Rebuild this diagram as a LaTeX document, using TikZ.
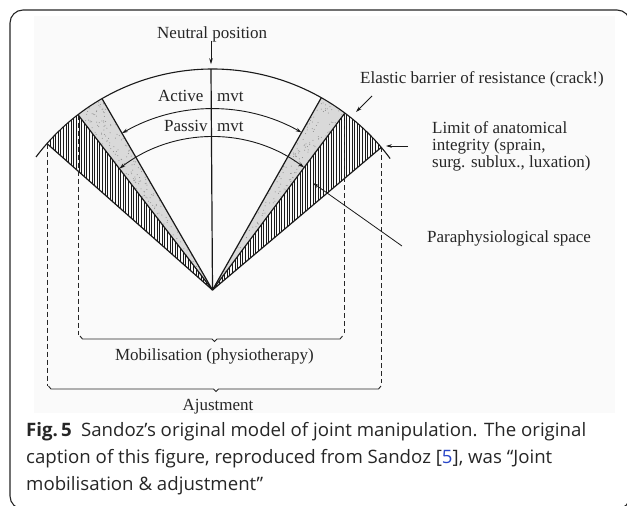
\documentclass[tikz,border=0pt]{standalone}
\usepackage{fontspec}
\setmainfont{Liberation Serif}
\newfontfamily\capfont{Open Sans}
\usepackage{graphicx}
\usetikzlibrary{arrows.meta}
\definecolor{linkblue}{RGB}{40,70,200}
\newsavebox\capboxA
\newlength\capwidthA
\newcommand\capfmt{\capfont\fontsize{18.5}{27}\selectfont}
\newcommand\caplineA{\textbf{Fig.\,5}\hspace{0.5em}Sandoz’s original model of joint manipulation. The original}
\tikzset{
  lab/.style={inner sep=0pt, anchor=base west, font=\fontsize{17}{17}\selectfont, text=black!85},
  labc/.style={lab, anchor=base},
  captext/.style={inner sep=0pt, anchor=base west, font=\capfmt, text=black!85},
  mainline/.style={line width=1.2pt, black!90},
  arcline/.style={line width=1.1pt, black!90},
  dashline/.style={line width=0.9pt, black!85, dash pattern=on 5pt off 3pt},
  arr/.style={line width=0.8pt, black!90, -{Stealth[length=6pt,width=3.6pt]}},
  dblarr/.style={line width=0.9pt, black!90, {Stealth[length=6pt,width=3.6pt]}-{Stealth[length=6pt,width=3.6pt]}},
  hatchline/.style={line width=0.65pt, black!90},
  stip/.style={fill=black!15},
  stipdot/.style={fill=black!45},
  framebox/.style={line width=1.1pt, black!85, rounded corners=13pt},
  bracket/.style={line width=0.9pt, black!85}
}
\begin{document}
\sbox\capboxA{\capfmt\caplineA}
\setlength\capwidthA{\wd\capboxA}
\pgfmathsetmacro\capscale{560/\capwidthA}
\begin{tikzpicture}[x=1pt,y=-1pt]
\useasboundingbox (0,0) rectangle (627,506);
\fill[white] (0,0) rectangle (627,506);
\fill[black!1.8] (34,16) rectangle (615,413);
\draw[framebox] (10,10) rectangle (630,509);

% geometry
\coordinate (O) at (212.5,290);
\coordinate (T) at (211,69.2);
\path (O) ++(-120:221) coordinate (L1);
\path (O) ++(-127.5:221) coordinate (L2);
\path (O) ++(-138.5:221) coordinate (L3);
\path (O) ++(-60.5:221) coordinate (R1);
\path (O) ++(-53.2:221) coordinate (R2);
\path (O) ++(-40.2:221) coordinate (R3);

% stippled zones
\pgfmathsetseed{11}
\begin{scope}
\clip (O) -- (L1) arc[start angle=-120, end angle=-127.5, radius=221] -- cycle;
\fill[stip] (70,90) rectangle (220,295);
\foreach \i in {1,...,1400} \fill[stipdot] ({75+140*rnd},{95+197*rnd}) circle (0.5);
\end{scope}
\begin{scope}
\clip (O) -- (R1) arc[start angle=-60.5, end angle=-53.2, radius=221] -- cycle;
\fill[stip] (205,90) rectangle (355,295);
\foreach \i in {1,...,1400} \fill[stipdot] ({208+142*rnd},{95+197*rnd}) circle (0.5);
\end{scope}

% hatched zones
\begin{scope}
\clip (O) -- (L2) arc[start angle=-127.5, end angle=-138.5, radius=221] -- cycle;
\foreach \x in {40,42.6,...,216} \draw[hatchline] (\x,60) -- (\x,295);
\end{scope}
\begin{scope}
\clip (O) -- (R2) arc[start angle=-53.2, end angle=-40.2, radius=221] -- cycle;
\foreach \x in {209,211.6,...,392} \draw[hatchline] (\x,60) -- (\x,295);
\end{scope}

% radial lines
\draw[mainline] (L1) -- (O);
\draw[mainline] (R1) -- (O);
\draw[mainline] (L2) -- (O);
\draw[mainline] (R2) -- (O);
\draw[mainline] (L3) -- (O);
\draw[mainline] (R3) -- (O);
\draw[mainline] (T) -- (O);

% outer arc
\draw[arcline] (O) ++(-143:221) arc[start angle=-143, end angle=-36.5, radius=221];

% movement arcs
\draw[dblarr] (O) ++(-120:181) arc[start angle=-120, end angle=-60.5, radius=181];
\draw[dblarr] (O) ++(-127.5:153) arc[start angle=-127.5, end angle=-53.2, radius=153];

% dashed verticals
\coordinate (mbL) at (0,335);
\coordinate (mbR) at (0,333);
\coordinate (ajL) at (0,386);
\coordinate (ajR) at (0,383);
\draw[dashline] (L2) -- (L2 |- mbL);
\draw[dashline] (R2) -- (R2 |- mbR);
\draw[dashline] (L3) -- (L3 |- ajL);
\draw[dashline] (R3) -- (R3 |- ajR);

% brackets
\draw[bracket] (80,336) -- (82.5,339) -- (212,339) -- (214.5,341.5) -- (217,339) -- (340,339) -- (342.5,336);
\draw[bracket] (48.5,386) -- (51,389) -- (213.5,389) -- (216,391.5) -- (218.5,389) -- (378.5,389) -- (381,386);

% labels
\node[lab] (neutral) at (157,38) {Neutral position};
\node[lab] (active) at (158,101) {Active};
\node[lab] (activem) at (217,101) {mvt};
\node[lab] (passiv) at (164,131.5) {Passiv};
\node[lab] (passivm) at (217,131.5) {mvt};
\node[lab] (elastic) at (360,83) {Elastic barrier of resistance (crack!)};
\node[lab] (limitA) at (432,133) {Limit of anatomical};
\node[lab] (limitB) at (432,150) {integrity (sprain,};
\node[lab] (limitC) at (432,167) {surg. sublux., luxation)};
\node[lab] (para) at (427,242) {Paraphysiological space};
\node[labc] (mob) at (214.5,360.5) {Mobilisation (physiotherapy)};
\node[labc] (ajust) at (218,410) {Ajustment};

% pointers
\coordinate (nA) at (211,40.5);
\draw[arr, shorten >=5pt] (nA) -- (T);
\coordinate (elA) at (372,96);
\coordinate (elB) at (356,112);
\draw[arr] (elA) -- (elB);
\coordinate (liA) at (408,146);
\coordinate (liB) at (386,146);
\draw[arr] (liA) -- (liB);
\coordinate (paA) at (402,246);
\coordinate (paB) at (313,183);
\draw[arr] (paA) -- (paB);

% caption
\node[captext] (cap1) at (26,436) {\scalebox{\capscale}[1]{\caplineA}};
\node[captext] (cap2) at (26,463) {\scalebox{\capscale}[1]{caption of this figure, reproduced from Sandoz [\textcolor{linkblue}{5}], was “Joint}};
\node[captext] (cap3) at (26,490) {\scalebox{\capscale}[1]{mobilisation \& adjustment”}};
\end{tikzpicture}
\end{document}
